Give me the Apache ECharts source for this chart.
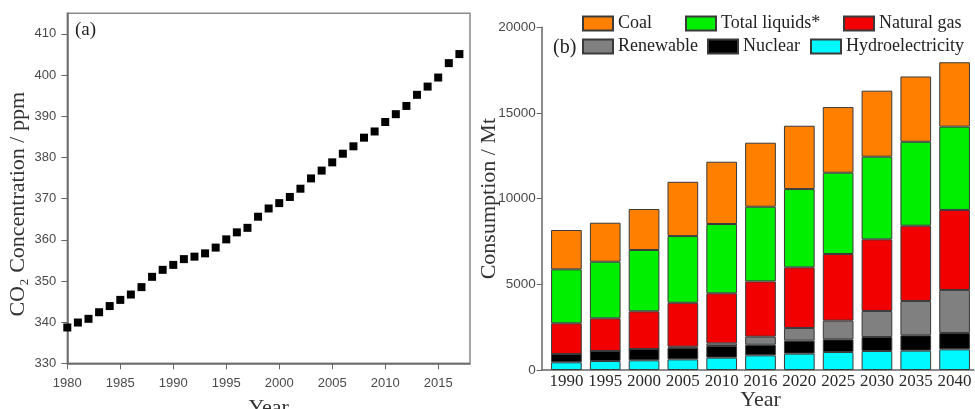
<!DOCTYPE html>
<html>
<head>
<meta charset="utf-8">
<script src="https://cdn.jsdelivr.net/npm/echarts@6/dist/echarts.min.js"></script>
<style>
  html, body { margin: 0; padding: 0; background: #fff; }
  #chart { width: 975px; height: 409px; }
</style>
</head>
<body>
<div id="chart"></div>
<script>
// (a) annual mean atmospheric CO2
const co2Years = [1980, 1981, 1982, 1983, 1984, 1985, 1986, 1987, 1988, 1989,
  1990, 1991, 1992, 1993, 1994, 1995, 1996, 1997, 1998, 1999,
  2000, 2001, 2002, 2003, 2004, 2005, 2006, 2007, 2008, 2009,
  2010, 2011, 2012, 2013, 2014, 2015, 2016, 2017];
const co2Ppm = [338.7, 339.9, 340.8, 342.4, 343.9, 345.4, 346.7, 348.5, 351.0, 352.7,
  353.9, 355.3, 355.9, 356.7, 358.1, 360.1, 361.8, 362.9, 365.6, 367.6,
  368.9, 370.4, 372.4, 374.9, 376.8, 378.8, 380.9, 382.7, 384.8, 386.3,
  388.6, 390.5, 392.5, 395.2, 397.2, 399.4, 402.9, 405.1];
const co2YTicks = [330, 340, 350, 360, 370, 380, 390, 400, 410];
const co2XTicks = [1980, 1985, 1990, 1995, 2000, 2005, 2010, 2015];

// (b) energy consumption by source, Mt
const fuelYears = ['1990', '1995', '2000', '2005', '2010', '2016', '2020', '2025', '2030', '2035', '2040'];
const hydroelectricity = [450, 525, 565, 620, 720, 855, 955, 1050, 1110, 1130, 1205];
const nuclear = [485, 585, 660, 680, 680, 620, 760, 740, 815, 895, 955];
const renewable = [0, 0, 0, 60, 155, 470, 735, 1090, 1520, 2000, 2510];
const naturalGas = [1790, 1905, 2200, 2565, 2920, 3225, 3540, 3890, 4180, 4395, 4670];
const totalLiquids = [3150, 3305, 3580, 3890, 4045, 4360, 4570, 4745, 4825, 4900, 4865];
const coal = [2295, 2275, 2390, 3170, 3635, 3735, 3695, 3830, 3850, 3810, 3755];
const consumptionTicks = [0, 5000, 10000, 15000, 20000];

const SERIF = '"Liberation Serif", "DejaVu Serif", serif';
const SANS = '"Liberation Sans", Arial, sans-serif';
const AXIS_GREY = '#666';
const LABEL_GREY = '#4a4a4a';
const plain = v => String(v);

// bottom-to-top stacking order
const fuels = [
  { name: 'Hydroelectricity', values: hydroelectricity, color: '#00f8ff' },
  { name: 'Nuclear', values: nuclear, color: '#000000' },
  { name: 'Renewable', values: renewable, color: '#808080' },
  { name: 'Natural gas', values: naturalGas, color: '#f20000' },
  { name: 'Total liquids*', values: totalLiquids, color: '#00ee00' },
  { name: 'Coal', values: coal, color: '#ff8000' }
];

// one legend block per entry, laid out in two rows
const legendSlots = [
  { name: 'Coal', left: 582, row: 0 },
  { name: 'Total liquids*', left: 685, row: 0 },
  { name: 'Natural gas', left: 843, row: 0 },
  { name: 'Renewable', left: 582, row: 1 },
  { name: 'Nuclear', left: 707, row: 1 },
  { name: 'Hydroelectricity', left: 810, row: 1 }
];
const rowCenters = [23.5, 46.5];

const chart = echarts.init(document.getElementById('chart'), null, { renderer: 'canvas' });

const option = {
  backgroundColor: '#fff',
  animation: false,
  grid: [
    // (a) framed plot
    { left: 67.3, right: 505, top: 13.3, bottom: 45.7, outerBoundsMode: 'none', containLabel: false,
      show: true, borderColor: '#8a8a8a', borderWidth: 1.5, backgroundColor: 'transparent' },
    // (b) bar plot, inset a little from its value axis
    { left: 547, right: 1, top: 27.3, bottom: 39, outerBoundsMode: 'none', containLabel: false },
    // (b) baseline running all the way to the value axis
    { left: 541.7, right: 1, top: 27.3, bottom: 39, outerBoundsMode: 'none', containLabel: false }
  ],
  xAxis: [
    {
      gridIndex: 0, type: 'value', min: 1980, max: 2018,
      name: 'Year', nameLocation: 'middle', nameGap: 34, nameMoveOverlap: false,
      nameTextStyle: { fontFamily: SERIF, fontSize: 22, color: '#333' },
      axisLine: { show: true, lineStyle: { color: AXIS_GREY, width: 1.5 } },
      axisTick: { show: true, length: 6, customValues: co2XTicks, lineStyle: { color: AXIS_GREY } },
      axisLabel: { customValues: co2XTicks, formatter: plain, margin: 14, fontFamily: SANS, fontSize: 13, color: LABEL_GREY },
      splitLine: { show: false }
    },
    {
      gridIndex: 1, type: 'category', data: fuelYears, boundaryGap: true,
      name: 'Year', nameLocation: 'middle', nameGap: 19, nameMoveOverlap: false,
      nameTextStyle: { fontFamily: SERIF, fontSize: 22, color: '#333' },
      axisLine: { show: false },
      axisTick: { show: false },
      axisLabel: { interval: 0, margin: 3, fontFamily: SERIF, fontSize: 17, color: '#2a2a2a' },
      splitLine: { show: false }
    },
    {
      gridIndex: 2, type: 'value', min: 0, max: 1,
      axisLine: { show: true, lineStyle: { color: AXIS_GREY, width: 1.5 } },
      axisTick: { show: false },
      axisLabel: { show: false },
      splitLine: { show: false }
    }
  ],
  yAxis: [
    {
      gridIndex: 0, type: 'value', min: 330, max: 415,
      name: 'CO\u2082 Concentration / ppm', nameLocation: 'middle', nameGap: 38, nameMoveOverlap: false,
      nameTextStyle: { fontFamily: SERIF, fontSize: 22, color: '#333', padding: [0, 32, 0, 0] },
      axisLine: { show: true, lineStyle: { color: AXIS_GREY, width: 1.5 } },
      axisTick: { show: true, length: 6, customValues: co2YTicks, lineStyle: { color: AXIS_GREY } },
      axisLabel: { customValues: co2YTicks, formatter: plain, margin: 11, fontFamily: SANS, fontSize: 13, color: LABEL_GREY },
      splitLine: { show: false }
    },
    {
      gridIndex: 1, type: 'value', min: 0, max: 20000, interval: 5000, offset: 5.3,
      name: 'Consumption / Mt', nameLocation: 'middle', nameGap: 41, nameMoveOverlap: false,
      nameTextStyle: { fontFamily: SERIF, fontSize: 22, color: '#333' },
      axisLine: { show: true, lineStyle: { color: AXIS_GREY, width: 1.5 } },
      axisTick: { show: true, length: 5, customValues: consumptionTicks, lineStyle: { color: AXIS_GREY } },
      axisLabel: { customValues: consumptionTicks, formatter: plain, margin: 6, fontFamily: SANS, fontSize: 13.5, color: LABEL_GREY },
      splitLine: { show: false }
    },
    { gridIndex: 2, type: 'value', show: false, min: 0, max: 1 }
  ],
  legend: legendSlots.map(s => ({
    data: [s.name],
    left: s.left,
    top: rowCenters[s.row] - 9,
    padding: 0,
    itemWidth: 30,
    itemHeight: 14,
    icon: 'rect',
    selectedMode: false,
    textStyle: { fontFamily: SERIF, fontSize: 18, color: '#222', lineHeight: 18 }
  })),
  graphic: [
    { type: 'text', left: 75, top: 21, style: { text: '(a)', font: '19px ' + SERIF, fill: '#222' } },
    { type: 'text', left: 553, top: 38, style: { text: '(b)', font: '20px ' + SERIF, fill: '#222' } }
  ],
  series: [
    {
      type: 'scatter', xAxisIndex: 0, yAxisIndex: 0, clip: true,
      symbol: 'rect', symbolSize: 8,
      itemStyle: { color: '#000', opacity: 1 },
      data: co2Years.map((y, i) => [y, co2Ppm[i]])
    }
  ].concat(fuels.map(f => ({
    type: 'bar', name: f.name, xAxisIndex: 1, yAxisIndex: 1,
    stack: 'fuel', barWidth: 30.7,
    itemStyle: { color: f.color, borderColor: '#3a3a3a', borderWidth: 1 },
    data: f.values
  })))
};

chart.setOption(option);
</script>
</body>
</html>
